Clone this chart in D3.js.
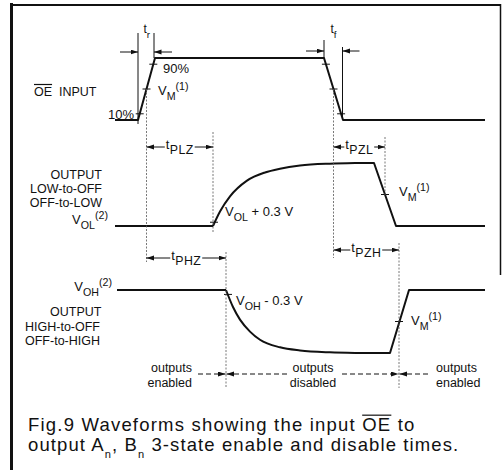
<!DOCTYPE html>
<html>
<head>
<meta charset="utf-8">
<script src="https://cdn.jsdelivr.net/npm/d3@7"></script>
<style>
  body { margin: 0; background: #fff; }
  text { font-family: "Liberation Sans", Arial, Helvetica, sans-serif; fill: #111; }
</style>
</head>
<body>
<svg id="chart" width="502" height="470"></svg>
<script>
// time axis in arbitrary units, levels 0 (low) .. 1 (high)
const timeDomain = [0, 74];

// OE input
const oeInput = [[0, 0], [4.6, 0], [8.0, 1], [41.8, 1], [45.6, 0], [74, 0]];
const oeTickLevels = [0.1, 0.5, 0.9];

// output LOW-to-OFF / OFF-to-LOW
const lowFlat = [[0, 0], [19.6, 0]];
const lowRise = [[19.6, 0], [21, 0.23], [23, 0.47], [26.4, 0.72], [30, 0.85], [33, 0.91], [37, 0.96], [43, 0.99], [48, 1]];
const lowFall = [[48, 1], [51.8, 1], [56.2, 0], [74, 0]];

// output HIGH-to-OFF / OFF-to-HIGH
const highFlat = [[0.4, 1], [22.2, 1]];
const highDecay = [[22.2, 1], [23.6, 0.73], [25, 0.53], [27, 0.34], [29, 0.21], [33, 0.09], [37, 0.04], [43, 0.01], [48, 0]];
const highRise = [[48, 0], [55, 0], [58.8, 1], [74, 1]];

// timing events
const tRise0 = 4.6, tRiseMid = 6.3, tRise1 = 7.8;
const tFall0 = 41.8, tFallMid = 43.7, tFall1 = 45.5;
const tPLZ = 19.6, tPHZ = 22.2, tPZL = 54.0, tPZH = 56.8;

const svg = d3.select("#chart");
const ink = "#111";

const x = d3.scaleLinear().domain(timeDomain).range([115, 485]);
const yOE = d3.scaleLinear().domain([0, 1]).range([120, 58]);
const yLow = d3.scaleLinear().domain([0, 1]).range([226, 163]);
const yHigh = d3.scaleLinear().domain([0, 1]).range([353, 290]);

// arrow heads
svg.append("defs").append("marker")
  .attr("id", "arr")
  .attr("markerUnits", "userSpaceOnUse")
  .attr("markerWidth", 8).attr("markerHeight", 6)
  .attr("refX", 7.5).attr("refY", 2.5)
  .attr("orient", "auto")
  .append("path").attr("d", "M0,0 L7.5,2.5 L0,5 Z").attr("fill", ink);

// frame
svg.append("line").attr("x1", 11.5).attr("x2", 11.5).attr("y1", 3).attr("y2", 470)
  .attr("stroke", ink).attr("stroke-width", 3);
svg.append("line").attr("x1", 10).attr("x2", 501).attr("y1", 5).attr("y2", 5)
  .attr("stroke", ink).attr("stroke-width", 2);
svg.append("line").attr("x1", 500.5).attr("x2", 500.5).attr("y1", 4).attr("y2", 275)
  .attr("stroke", ink).attr("stroke-width", 1.5);

// text helper with sub/superscripts
function label(px, py, parts, size = 13, anchor = "start", subScale = 0.82) {
  const t = svg.append("text").attr("x", px).attr("y", py)
    .attr("font-size", size).attr("text-anchor", anchor);
  let off = 0;
  parts.forEach(p => {
    const [s, kind] = typeof p === "string" ? [p, null] : p;
    const target = kind === "sub" ? size * 0.38 : kind === "sup" ? -size * 0.42 : 0;
    t.append("tspan").attr("dy", target - off)
      .attr("font-size", kind ? size * subScale : null).text(s);
    off = target;
  });
  return t;
}

// multi-line label in one text element
function label2(px, py, lines, size, anchor, gap) {
  const t = svg.append("text").attr("x", px).attr("y", py)
    .attr("font-size", size).attr("text-anchor", anchor);
  lines.forEach((s, i) => t.append("tspan").attr("x", px).attr("dy", i ? gap : 0).text(s));
  return t;
}

function overline(t, i0, i1, size) {
  const n = t.node();
  const a = n.getStartPositionOfChar(i0), b = n.getEndPositionOfChar(i1);
  const yy = a.y - size * 0.72 - 2.5;
  svg.append("line").attr("x1", a.x).attr("x2", b.x).attr("y1", yy).attr("y2", yy)
    .attr("stroke", ink).attr("stroke-width", 1.2);
}

function vline(px, y1, y2, dotted) {
  svg.append("line").attr("x1", px).attr("x2", px).attr("y1", y1).attr("y2", y2)
    .attr("stroke", dotted ? "#555" : ink)
    .attr("stroke-width", dotted ? 0.8 : 1)
    .attr("stroke-dasharray", dotted ? "2,1.5" : null);
}

function arrow(x1, x2, py, dashed) {
  svg.append("line").attr("x1", x1).attr("x2", x2).attr("y1", py).attr("y2", py)
    .attr("stroke", ink).attr("stroke-width", 1)
    .attr("stroke-dasharray", dashed ? "5,3" : null)
    .attr("marker-end", "url(#arr)");
}

// span arrow with label in the middle
function span(x0, x1, py, parts) {
  const cx = (x0 + x1) / 2;
  const t = label(cx, py + 2, parts, 13, "middle", 0.95).attr("letter-spacing", 0.4);
  const w = t.node().getBBox().width;
  arrow(cx - w / 2 - 1, x0, py);
  arrow(cx + w / 2 + 1, x1, py);
}

// waveforms
const wave = (ys, curve) => d3.line().x(d => x(d[0])).y(d => ys(d[1])).curve(curve);
function drawWave(data, ys, curve = d3.curveLinear) {
  svg.append("path").datum(data).attr("d", wave(ys, curve)(data))
    .attr("fill", "none").attr("stroke", ink).attr("stroke-width", 2)
    .attr("stroke-linejoin", "round");
}
drawWave(oeInput, yOE);
drawWave(lowFlat, yLow);
drawWave(lowRise, yLow, d3.curveMonotoneX);
drawWave(lowFall, yLow);
drawWave(highFlat, yHigh);
drawWave(highDecay, yHigh, d3.curveMonotoneX);
drawWave(highRise, yHigh);

// level ticks on ramps
function tick(px, py) {
  svg.append("line").attr("x1", px - 4).attr("x2", px + 4).attr("y1", py).attr("y2", py)
    .attr("stroke", ink).attr("stroke-width", 1);
}
const riseT = d3.scaleLinear().domain([0, 1]).range([oeInput[1][0], oeInput[2][0]]);
const fallT = d3.scaleLinear().domain([1, 0]).range([oeInput[3][0], oeInput[4][0]]);
oeTickLevels.forEach(l => {
  tick(x(riseT(l)), yOE(l));
  tick(x(fallT(l)), yOE(l));
});
tick(x(tPZL), yLow(0.5));
tick(x(tPZH), yHigh(0.5));
tick(x(lowRise[0][0]) + 1, yLow(0.06));
tick(x(highDecay[0][0]) + 2, yHigh(0.93));

// rise / fall time markers
vline(x(tRise0), 33, 124);
vline(x(tRise1), 33, yOE(1));
vline(x(tFall0), 40, yOE(1));
vline(x(tFall1), 47, yOE(0));
arrow(x(tRise0) - 18, x(tRise0), 52);
arrow(x(tRise1) + 18, x(tRise1), 52);
arrow(x(tFall0) - 18, x(tFall0), 51);
arrow(x(tFall1) + 17, x(tFall1), 51);
label(x(tRiseMid) - 3, 33, ["t", ["r", "sub"]], 12);
label(x(tFallMid) - 3, 33, ["t", ["f", "sub"]], 12);

// dotted reference lines
vline(x(tRiseMid), yOE(0.5), 262, true);
vline(x(tPLZ), 132, 232, true);
vline(x(tFallMid), yOE(0.5), 258, true);
vline(x(tPZL), 137, 196, true);
vline(x(tPHZ), 252, 388, true);
vline(x(tPZH), 243, 388, true);

// enable / disable spans
span(x(tRiseMid), x(tPLZ), 147, ["t", ["PLZ", "sub"]]);
span(x(tFallMid), x(tPZL), 147, ["t", ["PZL", "sub"]]);
span(x(tRiseMid), x(tPHZ), 258, ["t", ["PHZ", "sub"]]);
span(x(tFallMid), x(tPZH), 250, ["t", ["PZH", "sub"]]);

// level labels
label(163, 73, ["90%"], 13);
label(134, 119, ["10%"], 13, "end");
label(158, 95, ["V", ["M", "sub"], ["(1)", "sup"]], 13);
label(399, 196, ["V", ["M", "sub"], ["(1)", "sup"]], 13);
label(411, 325, ["V", ["M", "sub"], ["(1)", "sup"]], 13);
label(225, 216, ["V", ["OL", "sub"], " + 0.3 V"], 13);
label(236, 305, ["V", ["OH", "sub"], " - 0.3 V"], 13);
label(108, 224, ["V", ["OL", "sub"], ["(2)", "sup"]], 13, "end");
label(112, 291, ["V", ["OH", "sub"], ["(2)", "sup"]], 13, "end");

// row titles
const oeLbl = label(34, 96, ["OE  INPUT"], 12.5);
oeLbl.attr("xml:space", "preserve");
overline(oeLbl, 0, 1, 12.5);
label2(102, 179, ["OUTPUT", "LOW-to-OFF", "OFF-to-LOW"], 12.5, "end", 14);
label(50, 316, ["OUTPUT"], 12.5);
label2(25, 331, ["HIGH-to-OFF", "OFF-to-HIGH"], 12.5, "start", 14);

// outputs enabled / disabled
const yState = 374;
arrow(198, x(tPHZ) - 0.5, yState, true);
arrow(287, x(tPHZ) + 0.5, yState, true);
arrow(342, x(tPZH) - 0.5, yState, true);
arrow(428, x(tPZH) + 0.5, yState, true);
label2(192, 372, ["outputs", "enabled"], 12.5, "end", 14.5);
label2(313, 372, ["outputs", "disabled"], 12.5, "middle", 14.5);
label2(436, 372, ["outputs", "enabled"], 12.5, "start", 14.5);

// caption
const cap1 = label(28, 431, ["Fig.9 Waveforms showing the input OE to"], 18.5).attr("letter-spacing", 1.2);
overline(cap1, 34, 35, 18.5);
label(28, 451, ["output A", ["n", "sub"], ", B", ["n", "sub"], " 3-state enable and disable times."], 18.5, "start", 0.6)
  .attr("letter-spacing", 1.1);
</script>
</body>
</html>
